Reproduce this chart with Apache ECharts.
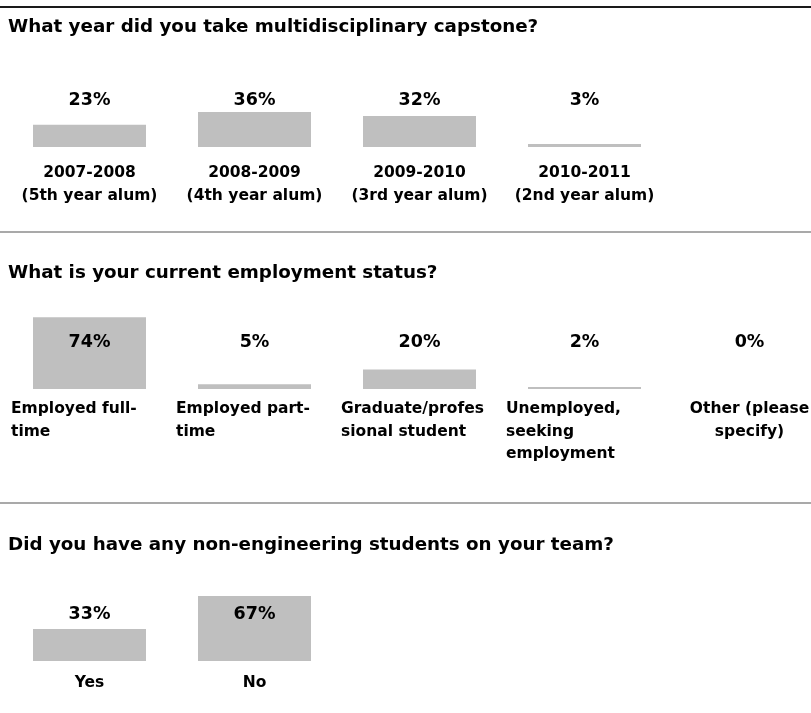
<!DOCTYPE html>
<html>
<head>
<meta charset="utf-8">
<script src="https://cdn.jsdelivr.net/npm/echarts@6/dist/echarts.min.js"></script>
<style>
html,body{margin:0;padding:0;background:#fff;overflow:hidden;}
#c{width:850px;height:713px;}
</style>
</head>
<body>
<div id="c"></div>
<script>
// ---- data ----
var q1Title = 'What year did you take multidisciplinary capstone?';
var q1Categories = ['2007-2008\n(5th year alum)', '2008-2009\n(4th year alum)', '2009-2010\n(3rd year alum)', '2010-2011\n(2nd year alum)'];
var q1Values = [23, 36, 32, 3];

var q2Title = 'What is your current employment status?';
var q2Categories = ['Employed full-\ntime', 'Employed part-\ntime', 'Graduate/profes\nsional student', 'Unemployed,\nseeking\nemployment', 'Other (please\nspecify)'];
var q2Values = [74, 5, 20, 2, 0];

var q3Title = 'Did you have any non-engineering students on your team?';
var q3Categories = ['Yes', 'No'];
var q3Values = [33, 67];

// ---- styles ----
var FONT = 'DejaVu Sans';
var BAR = '#bfbfbf';
var BAND = 165;
var GRID_H = 97;
var baselines = [147, 389, 661];

function grid(i, n) {
  return { left: 7, top: baselines[i] - GRID_H, height: GRID_H, width: BAND * n, containLabel: false };
}
function xAxis(i, cats, margin, mode) {
  return {
    type: 'category', gridIndex: i, data: cats,
    axisLine: { show: false }, axisTick: { show: false }, splitLine: { show: false },
    axisLabel: {
      interval: 0, margin: margin,
      color: '#000', fontFamily: FONT, fontWeight: 'bold', fontSize: 15.5, lineHeight: 22.5,
      formatter: function (v, idx) {
        var lines = v.split('\n');
        var useLeft = (mode === 'left') && idx < cats.length - 1;
        var tag = useLeft ? 'l' : 'c';
        return lines.map(function (s) { return '{' + tag + '|' + s + '}'; }).join('\n');
      },
      rich: {
        l: { width: 157, align: 'left', fontFamily: FONT, fontWeight: 'bold', fontSize: 15.5, lineHeight: 22.5, color: '#000' },
        c: { align: 'center', fontFamily: FONT, fontWeight: 'bold', fontSize: 15.5, lineHeight: 22.5, color: '#000' }
      }
    }
  };
}
function yAxis(i) {
  return { type: 'value', gridIndex: i, min: 0, max: 100, show: false, splitLine: { show: false } };
}
function series(i, vals) {
  return {
    type: 'bar', xAxisIndex: i, yAxisIndex: i, data: vals, barWidth: 113,
    itemStyle: { color: BAR },
    silent: true,
    label: {
      show: true, position: 'insideBottom', distance: 38,
      formatter: '{c}%', color: '#000', fontFamily: FONT, fontWeight: 'bold', fontSize: 17.5, lineHeight: 18
    }
  };
}
function title(text, top) {
  return { text: text, left: 8, top: top, padding: 0,
    textStyle: { fontFamily: FONT, fontWeight: 'bold', fontSize: 18.3, color: '#000' } };
}

var chart = echarts.init(document.getElementById('c'), null, { renderer: 'canvas' });
chart.setOption({
  animation: false,
  backgroundColor: '#fff',
  title: [title(q1Title, 18), title(q2Title, 264), title(q3Title, 536)],
  grid: [grid(0, q1Categories.length), grid(1, q2Categories.length), grid(2, q3Categories.length)],
  xAxis: [xAxis(0, q1Categories, 15, 'center'), xAxis(1, q2Categories, 9, 'left'), xAxis(2, q3Categories, 11, 'center')],
  yAxis: [yAxis(0), yAxis(1), yAxis(2)],
  series: [series(0, q1Values), series(1, q2Values), series(2, q3Values)],
  graphic: [
    { type: 'line', shape: { x1: 0, y1: 7, x2: 850, y2: 7 }, style: { stroke: '#1a1a1a', lineWidth: 2 }, silent: true },
    { type: 'line', shape: { x1: 0, y1: 232, x2: 850, y2: 232 }, style: { stroke: '#8c8c8c', lineWidth: 1.5 }, silent: true },
    { type: 'line', shape: { x1: 0, y1: 503, x2: 850, y2: 503 }, style: { stroke: '#8c8c8c', lineWidth: 1.5 }, silent: true }
  ]
});
</script>
</body>
</html>
